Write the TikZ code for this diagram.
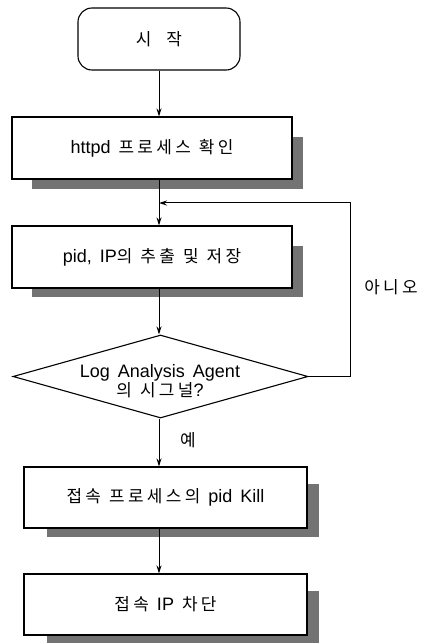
\documentclass[tikz,border=0pt]{standalone}
\usepackage{fontspec}
\setmainfont{Liberation Sans}
\newfontfamily\kr[Scale=0.94,LetterSpace=20]{Noto Sans CJK KR}
\usetikzlibrary{shapes.geometric,arrows.meta}
\newcommand\gp{\hspace{8pt}}
\tikzset{
  txt/.style={font=\fontsize{18}{19}\selectfont, inner sep=0pt},
  proc/.style={draw, line width=1.1pt, inner sep=0pt, txt},
  decision/.style={draw, diamond, line width=1.1pt, inner sep=0pt, minimum width=295pt, minimum height=83pt},
  arr/.style={-{Stealth[length=8pt,width=5pt]}, line width=0.9pt},
  shade/.style={fill=black!55},
}
\begin{document}
\begin{tikzpicture}[x=1pt,y=-1pt]
\useasboundingbox (0,0) rectangle (425,644);
\node[proc, rounded corners=14pt, minimum width=162pt, minimum height=62pt] (start) at (159,39) {{\kr 시}\hspace{15pt}{\kr 작}};
\node[proc, minimum width=280pt, minimum height=62pt] (box1) at (152,148) {httpd\gp{\kr 프로세스}\gp{\kr 확인}};
\node[proc, minimum width=280pt, minimum height=62pt] (box2) at (152,257) {pid,\gp IP{\kr 의}\gp{\kr 추출}\gp{\kr 및}\gp{\kr 저장}};
\node[decision] (dia) at (160.5,376.5) {};
\node[txt, align=center] (diatext) at (160,381) {Log\gp Analysis\gp Agent\\{\kr 의}\gp{\kr 시그널}?};
\node[proc, minimum width=283pt, minimum height=61pt] (box3) at (165.5,497.5) {{\kr 접속}\gp{\kr 프로세스의}\gp pid\gp Kill};
\node[proc, minimum width=283pt, minimum height=61pt] (box4) at (165.5,604.5) {{\kr 접속}\gp IP\gp{\kr 차단}};
\node[txt] (no) at (391,287) {\kr 아니오};
\node[txt] (yes) at (188,440) {\kr 예};
\coordinate (j) at (159,203);
\coordinate (loopx) at (350,0);
% shadows
\fill[shade] ([xshift=21pt]box1.south west) rectangle ([xshift=10pt,yshift=-9pt]box1.south east);
\fill[shade] ([yshift=-21pt]box1.north east) rectangle ([xshift=10pt,yshift=-9pt]box1.south east);
\fill[shade] ([xshift=21pt]box2.south west) rectangle ([xshift=10pt,yshift=-8pt]box2.south east);
\fill[shade] ([yshift=-21pt]box2.north east) rectangle ([xshift=10pt,yshift=-8pt]box2.south east);
\fill[shade] ([xshift=24pt]box3.south west) rectangle ([xshift=11pt,yshift=-8pt]box3.south east);
\fill[shade] ([yshift=-18pt]box3.north east) rectangle ([xshift=11pt,yshift=-8pt]box3.south east);
\fill[shade] ([xshift=24pt]box4.south west) rectangle ([xshift=11pt,yshift=-7pt]box4.south east);
\fill[shade] ([yshift=-18pt]box4.north east) rectangle ([xshift=11pt,yshift=-7pt]box4.south east);
% connectors
\draw[arr] (start.south) -- (start.south |- box1.north);
\draw[arr] (box1.south -| start.south) -- (box2.north -| start.south);
\draw[arr] (box2.south -| start.south) -- (dia.north -| start.south);
\draw[arr] (dia.south -| start.south) -- (box3.north -| start.south);
\draw[arr] (box3.south -| start.south) -- (box4.north -| start.south);
\draw[arr, line width=1pt] (dia.east) -- (dia.east -| loopx) |- (j);
\end{tikzpicture}
\end{document}
